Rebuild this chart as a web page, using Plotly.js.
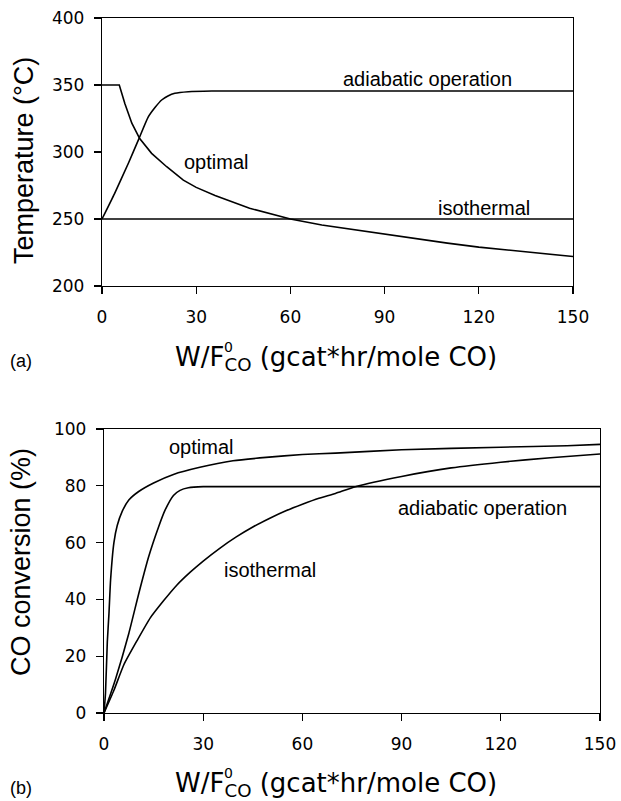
<!DOCTYPE html>
<html>
<head>
<meta charset="utf-8">
<script src="https://cdn.plot.ly/plotly-3.0.1.min.js"></script>
<style>html,body{margin:0;padding:0;background:#fff;}#chart{width:621px;height:801px;}</style>
</head>
<body>
<div id="chart"></div>
<script>
// ---- Data ----
// (a) Temperature profiles
const wT_isothermal = [0, 150];
const T_isothermal = [250, 250];
const wT_adiabatic = [0, 4, 8.4, 11.6, 14.7, 17, 19, 21, 23.2, 27.5, 35, 150];
const T_adiabatic = [250, 269, 291.6, 309, 326, 333.5, 338.8, 341.8, 343.8, 345, 345.5, 345.5];
const wT_optimal = [0, 5.5, 7.3, 9.5, 12, 15.8, 20.6, 25.9, 30, 36, 47, 60, 70, 80, 90, 100, 110, 120, 135, 150];
const T_optimal = [350, 350, 336, 321.5, 310, 299, 289, 279, 273.6, 267.5, 258, 250, 245.5, 242, 238.5, 235, 232, 229, 225.5, 222];
// (b) CO conversion profiles
const wX_optimal = [0, 0.45, 1, 1.5, 2, 3, 4, 5.5, 7.5, 10.5, 15, 21, 29, 39, 49, 60, 70, 90, 120, 140, 150];
const X_optimal = [0, 7, 25, 35, 47, 60, 66, 71, 75, 78, 81, 84, 86.5, 88.8, 90, 91, 91.5, 92.7, 93.6, 94.1, 94.6];
const wX_adiabatic = [0, 3.5, 7.5, 10.5, 13.5, 16.5, 18.5, 21, 23, 25.5, 30, 150];
const X_adiabatic = [0, 12, 28, 42, 55, 65.5, 71.5, 76.6, 78.4, 79.3, 79.7, 79.7];
const wX_isothermal = [0, 3, 6, 10, 14, 18, 22, 26, 30, 35, 40, 45, 50, 55, 60, 65, 70, 76, 90, 105, 120, 135, 150];
const X_isothermal = [0, 8, 17, 25.5, 33.5, 39.5, 45, 49.5, 53.5, 58, 62, 65.5, 68.5, 71.2, 73.5, 75.6, 77.3, 79.7, 83.3, 86.3, 88.3, 89.9, 91.2];
// Axis ticks
const xTicks = [0, 30, 60, 90, 120, 150];
const yTicksT = [200, 250, 300, 350, 400];
const yTicksX = [0, 20, 40, 60, 80, 100];

// ---- Layout helpers (pixel -> paper) ----
const W = 621, H = 801;
const px = v => v / W;
const py = v => 1 - v / H;

function tr(x, y, xa, ya, smooth) {
  const line = {color: '#000', width: 1.6};
  if (smooth) { line.shape = 'spline'; line.smoothing = 0.5; }
  return {x: x, y: y, xaxis: xa, yaxis: ya, type: 'scatter', mode: 'lines', line: line, hoverinfo: 'skip', showlegend: false};
}
const data = [
  tr(wT_isothermal, T_isothermal, 'x', 'y', false),
  tr(wT_adiabatic, T_adiabatic, 'x', 'y', true),
  tr(wT_optimal, T_optimal, 'x', 'y', false),
  tr(wX_optimal, X_optimal, 'x2', 'y2', true),
  tr(wX_adiabatic, X_adiabatic, 'x2', 'y2', true),
  tr(wX_isothermal, X_isothermal, 'x2', 'y2', true)
];

const tickFont = {family: 'DejaVu Sans', size: 17, color: '#000'};
function axisBase(extra) {
  return Object.assign({
    showline: true, linecolor: '#000', linewidth: 1.2, mirror: true,
    ticks: 'outside', ticklen: 7, tickwidth: 1.2, tickcolor: '#000',
    showgrid: false, zeroline: false, tickfont: tickFont, fixedrange: true
  }, extra);
}

const annFont = {family: 'Liberation Sans, Arial, sans-serif', size: 20, color: '#000'};
const titleFontX = {family: 'DejaVu Sans', size: 26, color: '#000'};
function lab(text, x, y, xref, yref) {
  return {text: text, x: x, y: y, xref: xref, yref: yref, showarrow: false, font: annFont, xanchor: 'center', yanchor: 'middle'};
}
const xTitle = 'W/F<sub>CO</sub> (gcat*hr/mole CO)';

const layout = {
  width: W, height: H,
  margin: {l: 0, r: 0, t: 0, b: 0},
  paper_bgcolor: '#fff', plot_bgcolor: '#fff',
  showlegend: false,
  xaxis: axisBase({domain: [px(102), px(573)], range: [0, 150], tickvals: xTicks, anchor: 'y', ticklabelstandoff: 8}),
  yaxis: axisBase({domain: [py(286), py(18)], range: [200, 400], tickvals: yTicksT, anchor: 'x', ticklabelstandoff: 6}),
  xaxis2: axisBase({domain: [px(104), px(600)], range: [0, 150], tickvals: xTicks, anchor: 'y2', ticklabelstandoff: 8}),
  yaxis2: axisBase({domain: [py(713), py(429)], range: [0, 100], tickvals: yTicksX, anchor: 'x2', ticklabelstandoff: 6}),
  annotations: [
    lab('adiabatic operation', 103.7, 354.3, 'x', 'y'),
    lab('isothermal', 121.7, 258.2, 'x', 'y'),
    lab('optimal', 36.2, 292.8, 'x', 'y'),
    lab('optimal', 29.3, 93.8, 'x2', 'y2'),
    lab('isothermal', 50.2, 50.4, 'x2', 'y2'),
    lab('adiabatic operation', 114.5, 72.3, 'x2', 'y2'),
    // axis titles
    {text: 'Temperature (°C)', x: px(24), y: py(161), xref: 'paper', yref: 'paper', showarrow: false, textangle: -90,
     font: {family: 'Liberation Sans, Arial, sans-serif', size: 27, color: '#000'}, xanchor: 'center', yanchor: 'middle'},
    {text: 'CO conversion (%)', x: px(21), y: py(562), xref: 'paper', yref: 'paper', showarrow: false, textangle: -90,
     font: {family: 'Liberation Sans, Arial, sans-serif', size: 27, color: '#000'}, xanchor: 'center', yanchor: 'middle'},
    {text: xTitle, x: px(335.5), y: py(358), xref: 'paper', yref: 'paper', showarrow: false, font: titleFontX, xanchor: 'center', yanchor: 'middle'},
    {text: '0', x: px(228), y: py(347), xref: 'paper', yref: 'paper', showarrow: false, font: {family: 'DejaVu Sans', size: 14, color: '#000'}, xanchor: 'center', yanchor: 'middle'},
    {text: xTitle, x: px(335.5), y: py(784), xref: 'paper', yref: 'paper', showarrow: false, font: titleFontX, xanchor: 'center', yanchor: 'middle'},
    {text: '0', x: px(228), y: py(773), xref: 'paper', yref: 'paper', showarrow: false, font: {family: 'DejaVu Sans', size: 14, color: '#000'}, xanchor: 'center', yanchor: 'middle'},
    // panel labels
    {text: '(a)', x: px(21), y: py(361), xref: 'paper', yref: 'paper', showarrow: false, font: {family: 'Liberation Sans, Arial, sans-serif', size: 18, color: '#000'}, xanchor: 'center', yanchor: 'middle'},
    {text: '(b)', x: px(21), y: py(788), xref: 'paper', yref: 'paper', showarrow: false, font: {family: 'Liberation Sans, Arial, sans-serif', size: 18, color: '#000'}, xanchor: 'center', yanchor: 'middle'}
  ]
};

Plotly.newPlot('chart', data, layout, {displayModeBar: false, staticPlot: true});
</script>
</body>
</html>
